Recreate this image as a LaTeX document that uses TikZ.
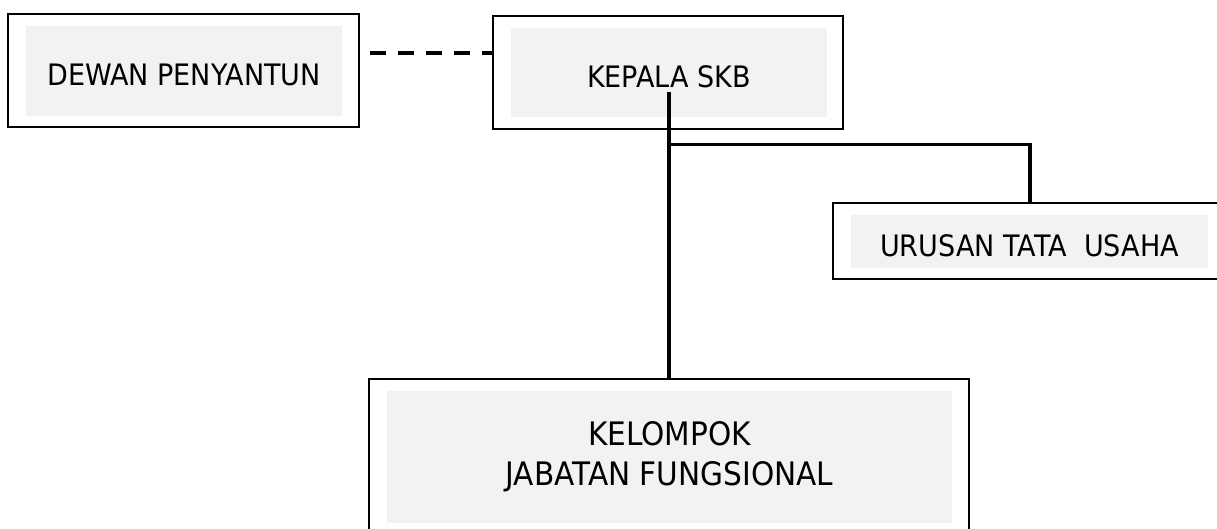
\documentclass[tikz,border=0pt]{standalone}
\usepackage{fontspec}
\setmainfont{DejaVu Sans}[FakeStretch=0.915]
\usetikzlibrary{positioning,calc}
\definecolor{boxgray}{HTML}{F2F2F2}

\begin{document}
\begin{tikzpicture}[font=\fontsize{21}{25}\selectfont,
  outerbox/.style={draw,line width=2pt,inner sep=0pt},
  unit/.style={fill=boxgray,inner sep=0pt,align=center},
  unitline/.style={unit,text height=0.74cm},
  link/.style={line width=2.4pt},
  dashline/.style={line width=2.8pt,dash pattern=on 0.4cm off 0.3cm}]
\clip (0,0) rectangle (30.425,-13.225);

% Dewan Penyantun
\node[outerbox,minimum width=8.775cm,minimum height=2.825cm] (dewanframe) at (4.5875,-1.7625) {};
\node[unitline,minimum width=7.9cm,minimum height=2.25cm] (dewan) at (4.6,-1.775) {DEWAN PENYANTUN};

% Kepala SKB
\node[outerbox,minimum width=8.75cm,minimum height=2.825cm] (kepalaframe) at (16.7,-1.8125) {};
\node[unitline,minimum width=7.9cm,minimum height=2.225cm] (kepala) at (16.725,-1.8125) {KEPALA SKB};

% Urusan Tata Usaha
\node[outerbox,minimum width=9.85cm,minimum height=1.9cm] (urusanframe) at (25.75,-6.025) {};
\node[unitline,minimum width=8.925cm,minimum height=1.325cm] (urusan) at (25.7375,-6.0375) {URUSAN TATA\ \ USAHA};

% Kelompok Jabatan Fungsional
\node[outerbox,minimum width=15cm,minimum height=4.525cm] (kelompokframe) at (16.725,-11.7375) {};
\node[unit,minimum width=14.125cm,minimum height=3.3cm,font=\fontsize{23}{28.5}\selectfont] (kelompok) at (16.7375,-11.425) {KELOMPOK\\JABATAN FUNGSIONAL};

% lines
\coordinate (stem) at ([yshift=-0.5cm]kepala.center);
\draw[link] (stem) -- (stem |- kelompokframe.north);
\path (kepalaframe.south) ++(0,-0.35) coordinate (forkrow);
\draw[link] (stem |- forkrow) -| (urusanframe.north);
\coordinate (dashstart) at ([xshift=0.25cm,yshift=0.44cm]dewanframe.east);
\draw[dashline] (dashstart) -- (dashstart -| kepalaframe.west);
\end{tikzpicture}
\end{document}
